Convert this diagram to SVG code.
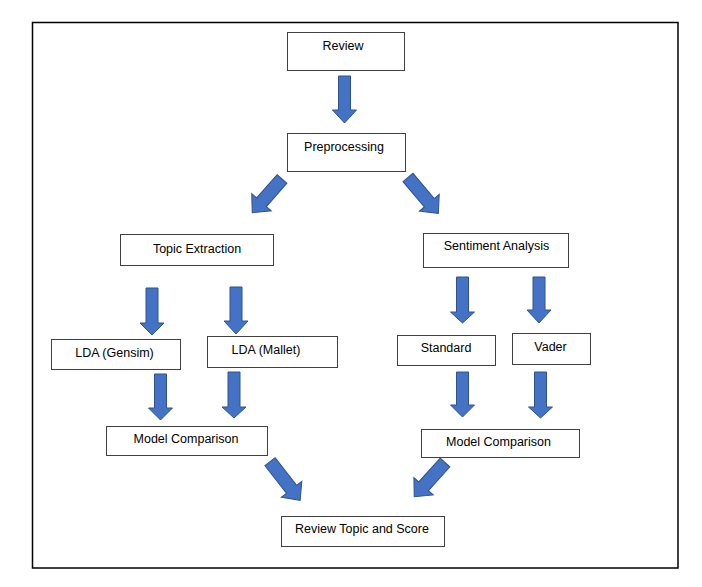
<svg xmlns="http://www.w3.org/2000/svg" width="702" height="587" viewBox="0 0 702 587">
  <style>
    .frame { fill: none; stroke: #000; stroke-width: 1.5; }
    .box { fill: #fff; stroke: #404040; stroke-width: 1; }
    .lbl { font-family: "Liberation Sans", Arial, sans-serif; font-size: 12.5px; fill: #000; text-anchor: middle; }
    .arr { fill: #4472C4; stroke: #2F528F; stroke-width: 1; }
  </style>
  <rect width="702" height="587" fill="#fff"/>
  <rect class="frame" x="32.5" y="22.5" width="645.5" height="545.5"/>

  <!-- block arrows -->
  <g id="connectors">
    <polygon class="arr" points="338.5,76 350.5,76 350.5,110 356.5,110 344.5,123 332.5,110 338.5,110"/>
    <path class="arr" transform="translate(282,179) rotate(41.4)" d="M-6.5,0 H6.5 V31 H13 L0,45 L-13,31 H-6.5 Z"/>
    <path class="arr" transform="translate(408,177.5) rotate(-40.2)" d="M-6.5,0 H6.5 V33 H13 L0,47 L-13,33 H-6.5 Z"/>
    <polygon class="arr" points="146,288 158,288 158,323 164,323 152,335 140,323 146,323"/>
    <polygon class="arr" points="230,287 242,287 242,321 248,321 236,334 224,321 230,321"/>
    <polygon class="arr" points="154.5,374 166.5,374 166.5,408 172.5,408 160.5,420 148.5,408 154.5,408"/>
    <polygon class="arr" points="228,372 240,372 240,407 246,407 234,418 222,407 228,407"/>
    <polygon class="arr" points="456.5,277 468.5,277 468.5,312 474.5,312 462.5,323 450.5,312 456.5,312"/>
    <polygon class="arr" points="533,277 545,277 545,310 551,310 539,323 527,310 533,310"/>
    <polygon class="arr" points="456.5,372 468.5,372 468.5,405 474.5,405 462.5,417 450.5,405 456.5,405"/>
    <polygon class="arr" points="534.5,372 546.5,372 546.5,407 552.5,407 540.5,418 528.5,407 534.5,407"/>
    <path class="arr" transform="translate(270,461.7) rotate(-38)" d="M-6.5,0 H6.5 V35 H13 L0,49 L-13,35 H-6.5 Z"/>
    <path class="arr" transform="translate(445,462.5) rotate(42)" d="M-6.5,0 H6.5 V32 H13 L0,46 L-13,32 H-6.5 Z"/>
  </g>

  <g id="review">
    <rect class="box" x="287.5" y="32.5" width="117" height="38"/>
    <text class="lbl" x="343" y="50">Review</text>
  </g>
  <g id="preprocessing">
    <rect class="box" x="287.5" y="133.5" width="118" height="38"/>
    <text class="lbl" x="344" y="151">Preprocessing</text>
  </g>
  <g id="topic-extraction">
    <rect class="box" x="120.5" y="234.5" width="153" height="31"/>
    <text class="lbl" x="197" y="253">Topic Extraction</text>
  </g>
  <g id="sentiment-analysis">
    <rect class="box" x="423.5" y="233.5" width="145" height="34"/>
    <text class="lbl" x="496.5" y="250">Sentiment Analysis</text>
  </g>
  <g id="lda-gensim">
    <rect class="box" x="51.5" y="339.5" width="129" height="30"/>
    <text class="lbl" x="114.5" y="356.5">LDA (Gensim)</text>
  </g>
  <g id="lda-mallet">
    <rect class="box" x="207.5" y="336.5" width="130" height="31"/>
    <text class="lbl" x="266" y="354">LDA (Mallet)</text>
  </g>
  <g id="standard">
    <rect class="box" x="397.5" y="335.5" width="98" height="30"/>
    <text class="lbl" x="446" y="352">Standard</text>
  </g>
  <g id="vader">
    <rect class="box" x="512.5" y="333.5" width="78" height="31"/>
    <text class="lbl" x="550.5" y="350.5">Vader</text>
  </g>
  <g id="model-comparison-topic">
    <rect class="box" x="106.5" y="426.5" width="161" height="29"/>
    <text class="lbl" x="186" y="443">Model Comparison</text>
  </g>
  <g id="model-comparison-sentiment">
    <rect class="box" x="421.5" y="429.5" width="158" height="28"/>
    <text class="lbl" x="498.5" y="446">Model Comparison</text>
  </g>
  <g id="review-topic-score">
    <rect class="box" x="281.5" y="516.5" width="163" height="30"/>
    <text class="lbl" x="362" y="533">Review Topic and Score</text>
  </g>
</svg>
